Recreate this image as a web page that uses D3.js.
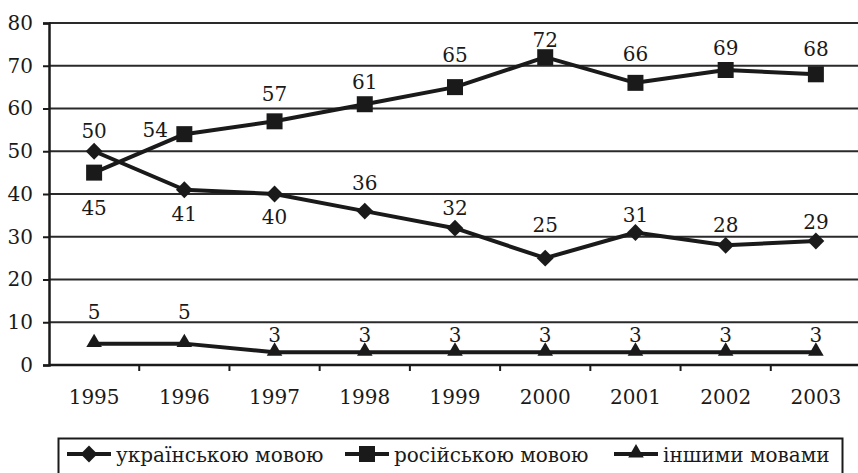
<!DOCTYPE html>
<html>
<head>
<meta charset="utf-8">
<script src="https://cdn.jsdelivr.net/npm/d3@7"></script>
<style>
  html, body { margin: 0; padding: 0; background: #fff; }
  svg { display: block; }
</style>
</head>
<body>
<svg id="chart" width="858" height="473"></svg>
<script>
// Years and shares (%) by language
const years = ["1995", "1996", "1997", "1998", "1999", "2000", "2001", "2002", "2003"];
const ukrainian = [50, 41, 40, 36, 32, 25, 31, 28, 29];
const russian = [45, 54, 57, 61, 65, 72, 66, 69, 68];
const other = [5, 5, 3, 3, 3, 3, 3, 3, 3];
const yTicks = [0, 10, 20, 30, 40, 50, 60, 70, 80];
const seriesNames = ["українською мовою", "російською мовою", "іншими мовами"];

// Label baseline offsets (px from the marker centre; negative = above)
const ukrLabelDy = [-13, 31, 30, -21, -13, -26, -10, -13, -12];
const rusLabelDy = [42, 3, -20, -15, -25, -10, -22, -15, -18];
const rusLabelDx = [0, -29, 0, 0, 0, 0, 0, 0, 0];
const othLabelDy = [-25, -25, -10, -10, -10, -10, -10, -10, -10];

const svg = d3.select("#chart");
const ink = "#1a1a1a";
const serif = "'DejaVu Serif', 'Liberation Serif', serif";
const fontSize = 20;

const x = d3.scaleBand().domain(years).range([49, 861]);
const y = d3.scaleLinear().domain([0, 80]).range([365, 23]);
const cx = d => x(d) + x.bandwidth() / 2;

// Horizontal gridlines
svg.append("g")
  .selectAll("line")
  .data(yTicks.filter(t => t > 0))
  .join("line")
  .attr("x1", 49).attr("x2", 858)
  .attr("y1", d => y(d)).attr("y2", d => y(d))
  .attr("stroke", "#2a2a2a").attr("stroke-width", 2);

// Y axis
const yAxis = svg.append("g")
  .attr("transform", "translate(49,0)")
  .call(d3.axisLeft(y).tickValues(yTicks).tickSize(6).tickPadding(10));
yAxis.attr("font-family", serif);
yAxis.select(".domain").attr("stroke", ink).attr("stroke-width", 2.5);
yAxis.selectAll(".tick line").attr("stroke", ink).attr("stroke-width", 2);
yAxis.selectAll(".tick text").attr("font-size", fontSize).attr("fill", ink);

// X axis: ticks sit between categories
const xAxis = svg.append("g")
  .attr("transform", "translate(0,365)")
  .call(d3.axisBottom(x).tickSize(0).tickPadding(25));
xAxis.attr("font-family", serif);
xAxis.select(".domain").remove();
xAxis.selectAll(".tick text").attr("font-size", fontSize).attr("fill", ink);
svg.append("line")
  .attr("x1", 49).attr("x2", 858).attr("y1", 365).attr("y2", 365)
  .attr("stroke", ink).attr("stroke-width", 2.5);
svg.append("g")
  .selectAll("line")
  .data(years.slice(1))
  .join("line")
  .attr("x1", d => x(d)).attr("x2", d => x(d))
  .attr("y1", 365).attr("y2", 371)
  .attr("stroke", ink).attr("stroke-width", 2);

const line = d3.line().x((d, i) => cx(years[i])).y(d => y(d));

const symbols = {
  diamond: d3.symbol().type(d3.symbolDiamond2).size(180),
  square: d3.symbol().type(d3.symbolSquare).size(256),
  triangle: d3.symbol().type(d3.symbolTriangle).size(105)
};

const series = [
  { values: ukrainian, sym: "diamond", dy: ukrLabelDy, dx: years.map(() => 0) },
  { values: russian, sym: "square", dy: rusLabelDy, dx: rusLabelDx },
  { values: other, sym: "triangle", dy: othLabelDy, dx: years.map(() => 0) }
];

series.forEach(s => {
  svg.append("path")
    .attr("d", line(s.values))
    .attr("fill", "none")
    .attr("stroke", ink)
    .attr("stroke-width", 4)
    .attr("stroke-linejoin", "round");

  svg.append("g")
    .selectAll("path")
    .data(s.values)
    .join("path")
    .attr("d", symbols[s.sym])
    .attr("transform", (d, i) => `translate(${cx(years[i])},${y(d) + (s.sym === "triangle" ? -1 : 0)})`)
    .attr("fill", ink);

  svg.append("g")
    .attr("font-family", serif)
    .attr("fill", ink)
    .selectAll("text")
    .data(s.values)
    .join("text")
    .attr("x", (d, i) => cx(years[i]) + s.dx[i])
    .attr("y", (d, i) => y(d) + s.dy[i])
    .attr("text-anchor", "middle")
    .attr("font-size", fontSize)
    .text(d => d);
});

// Legend
const legend = svg.append("g").attr("font-family", serif).attr("fill", ink);
legend.append("rect")
  .attr("x", 58.5).attr("y", 438.5)
  .attr("width", 784).attr("height", 40)
  .attr("fill", "#fff").attr("stroke", ink).attr("stroke-width", 2);

const legendItems = [
  { name: seriesNames[0], sym: "diamond", x0: 67 },
  { name: seriesNames[1], sym: "square", x0: 345 },
  { name: seriesNames[2], sym: "triangle", x0: 614 }
];
const ly = 454;
legendItems.forEach(it => {
  legend.append("line")
    .attr("x1", it.x0).attr("x2", it.x0 + 44)
    .attr("y1", ly).attr("y2", ly)
    .attr("stroke", ink).attr("stroke-width", 4);
  legend.append("path")
    .attr("d", symbols[it.sym])
    .attr("transform", `translate(${it.x0 + 22},${ly + (it.sym === "triangle" ? -1 : 0)})`)
    .attr("fill", ink);
  legend.append("text")
    .attr("x", it.x0 + 49)
    .attr("y", ly + 8)
    .attr("font-size", fontSize)
    .text(it.name);
});
</script>
</body>
</html>
